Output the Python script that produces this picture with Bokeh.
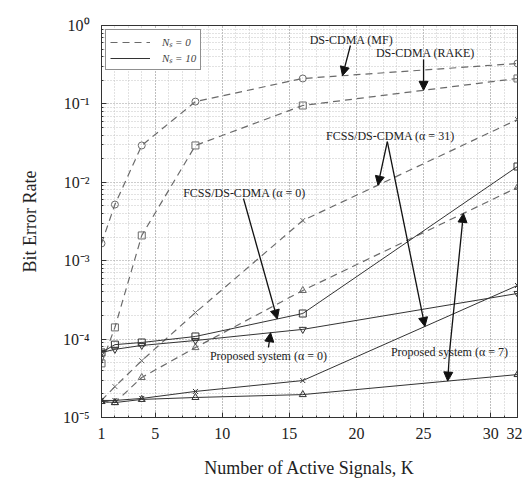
import numpy as np
from bokeh.plotting import figure
from bokeh.models import (FixedTicker, Label, Arrow, NormalHead, Legend, LegendItem)
from bokeh.embed import file_html
from bokeh.resources import INLINE

# ---------------- data ----------------
K = [1, 2, 4, 8, 16, 32]

# dashed (N_s = 0)
ber_mf = [1.66e-3, 5.2e-3, 2.95e-2, 0.107, 0.211, 0.328]
ber_rake = [4.9e-5, 1.41e-4, 2.1e-3, 2.95e-2, 0.0954, 0.211]
ber_fcss31_ns0 = [1.65e-5, 2.48e-5, 5.3e-5, 2.18e-4, 3.26e-3, 0.0632]
ber_prop7_ns0 = [1.60e-5, 1.55e-5, 3.24e-5, 7.8e-5, 4.17e-4, 8.6e-3]

# solid (N_s = 10)
ber_fcss31_ns10 = [1.65e-5, 1.65e-5, 1.75e-5, 2.15e-5, 2.96e-5, 4.83e-4]
ber_prop7_ns10 = [1.60e-5, 1.55e-5, 1.70e-5, 1.80e-5, 1.96e-5, 3.53e-5]
ber_fcss0_ns10 = [6.75e-5, 8.5e-5, 9.05e-5, 1.08e-4, 2.12e-4, 0.0159]
ber_prop0_ns10 = [6.75e-5, 7.4e-5, 8.3e-5, 9.6e-5, 1.33e-4, 3.82e-4]

x_ticks = [1, 5, 10, 15, 20, 25, 30, 32]
y_ticks = [1e-5, 1e-4, 1e-3, 1e-2, 1e-1, 1]
y_tick_labels = ["10⁻⁵", "10⁻⁴", "10⁻³", "10⁻²", "10⁻¹", "10⁰"]

SERIF = "Liberation Serif"
DASH_C = "#6a6a6a"
SOLID_C = "#333333"

p = figure(frame_width=416, frame_height=392, y_axis_type="log",
           x_range=(1, 32), y_range=(1e-5, 1),
           output_backend="svg", toolbar_location=None,
           min_border_left=101, min_border_top=25, min_border_right=5,
           min_border_bottom=62)
p.background_fill_color = "white"
p.outline_line_color = "#333333"
p.outline_line_width = 1

p.xaxis.ticker = FixedTicker(ticks=x_ticks, minor_ticks=list(range(1, 33)))
p.yaxis.ticker = FixedTicker(ticks=y_ticks,
                             minor_ticks=[m * 10.0 ** e for e in range(-5, 0) for m in range(2, 10)])
p.yaxis.major_label_overrides = {t: s for t, s in zip(y_ticks, y_tick_labels)}
for ax in (p.xaxis, p.yaxis):
    ax.axis_line_color = "#333333"
    ax.major_tick_in = 5
    ax.major_tick_out = 0
    ax.minor_tick_in = 2
    ax.minor_tick_out = 0
    ax.major_tick_line_color = "#333333"
    ax.minor_tick_line_color = "#333333"
    ax.major_label_text_font = SERIF
    ax.major_label_text_font_size = "16px"
    ax.major_label_text_color = "#222222"
    ax.axis_label_text_font = SERIF
    ax.axis_label_text_font_size = "18px"
    ax.axis_label_text_font_style = "normal"
    ax.axis_label_text_color = "#222222"
p.xaxis.major_label_standoff = 10
p.yaxis.major_label_standoff = 12
p.xaxis.axis_label = "Number of Active Signals, K"
p.yaxis.axis_label = "Bit Error Rate"
p.xaxis.axis_label_standoff = 16
p.yaxis.axis_label_standoff = 20

for g in (p.xgrid, p.ygrid):
    g.grid_line_color = "#9a9a9a"
    g.grid_line_dash = "1 2"
    g.grid_line_width = 1
    g.minor_grid_line_color = "#c4c4c4"
    g.minor_grid_line_dash = "1 2"
    g.minor_grid_line_width = 1

def series(vals, dashed, marker):
    color = DASH_C if dashed else SOLID_C
    kw = dict(line_color=color, line_width=1.2 if dashed else 1.0)
    if dashed:
        kw["line_dash"] = "7 5"
    r = p.line(K, vals, **kw)
    p.scatter(K, vals, marker=marker, size=7, line_color=color,
              fill_alpha=0, line_width=1)
    return r

r_d = series(ber_mf, True, "circle")
series(ber_rake, True, "square")
series(ber_fcss31_ns0, True, "x")
series(ber_prop7_ns0, True, "triangle")
series(ber_fcss31_ns10, False, "x")
series(ber_prop7_ns10, False, "triangle")
r_s = series(ber_fcss0_ns10, False, "square")
series(ber_prop0_ns10, False, "inverted_triangle")

# legend
legend = Legend(items=[LegendItem(label="Nₛ = 0", renderers=[r_d]),
                       LegendItem(label="Nₛ = 10", renderers=[r_s])],
                location="top_left", margin=4, padding=4, spacing=1,
                glyph_width=40, glyph_height=12, label_height=12, label_standoff=12,
                label_text_font=SERIF, label_text_font_size="11px",
                label_text_font_style="italic",
                border_line_color="#222222", border_line_width=1.5,
                background_fill_alpha=1)
p.add_layout(legend)

# annotations
def on_curve(k, vals):
    return float(10 ** np.interp(k, K, np.log10(vals)))

def note(x, y, text):
    p.add_layout(Label(x=x, y=y, text=text, text_align="center", text_baseline="middle",
                       text_font=SERIF, text_font_size="12px", text_color="#222222"))

def arrow(x0, y0, x1, y1):
    p.add_layout(Arrow(x_start=x0, y_start=y0, x_end=x1, y_end=y1,
                       line_color="#111111", line_width=1.3,
                       end=NormalHead(size=9, fill_color="#111111", line_color="#111111")))

note(19.63, 0.66, "DS-CDMA (MF)")
arrow(19.55, 0.556, 18.96, on_curve(18.96, ber_mf))

note(25.14, 0.44, "DS-CDMA (RAKE)")
arrow(25.0, 0.368, 25.0, on_curve(25.0, ber_rake))

note(22.53, 0.0395, "FCSS/DS-CDMA (α = 31)")
arrow(22.3, 0.0331, 21.6, on_curve(21.6, ber_fcss31_ns0))
arrow(22.3, 0.0331, 25.1, on_curve(25.1, ber_fcss31_ns10))

note(11.66, 7.41e-3, "FCSS/DS-CDMA (α = 0)")
arrow(11.58, 6.21e-3, 14.1, on_curve(14.1, ber_fcss0_ns10))

arrow(26.93, 6.75e-5, 27.97, on_curve(27.97, ber_prop7_ns0))
arrow(26.93, 6.75e-5, 26.8, on_curve(26.8, ber_prop7_ns10))
note(26.93, 6.75e-5, "Proposed system (α = 7)")

arrow(13.44, 7.82e-5, 13.6, on_curve(13.6, ber_prop0_ns10))
note(13.44, 6.0e-5, "Proposed system (α = 0)")

open("out.html", "w").write(file_html(p, INLINE))
